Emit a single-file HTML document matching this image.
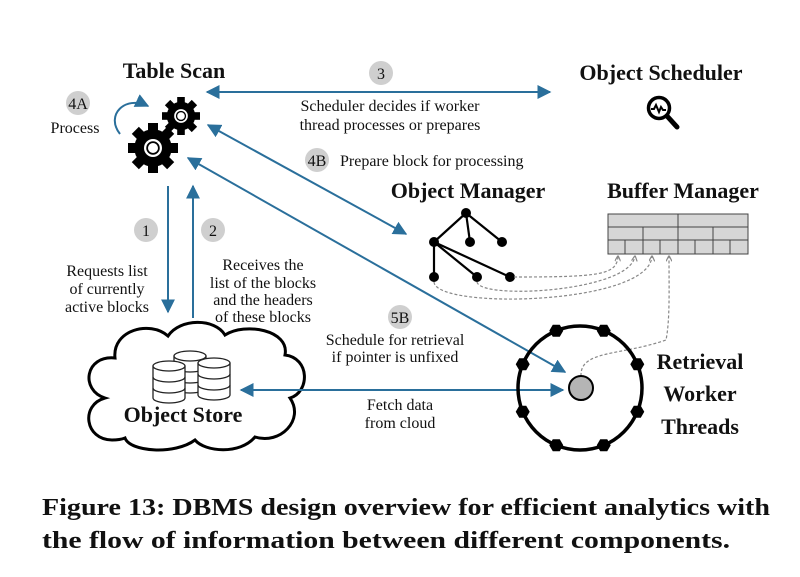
<!DOCTYPE html>
<html><head><meta charset="utf-8"><style>
html,body{margin:0;padding:0;background:#fff;}
svg{display:block;font-family:"Liberation Serif",serif;}
</style></head><body>
<svg width="800" height="577" viewBox="0 0 800 577" xmlns="http://www.w3.org/2000/svg">
<defs>
<marker id="ah" viewBox="0 0 10 10" refX="9" refY="5" markerWidth="7" markerHeight="7" orient="auto-start-reverse"><path d="M0,0 L10,5 L0,10 z" fill="#2a6f9b"/></marker>
<marker id="gh" viewBox="0 0 10 10" refX="9" refY="5" markerWidth="5" markerHeight="5" orient="auto"><path d="M0,0 L10,5 L0,10" fill="none" stroke="#888" stroke-width="2"/></marker>
<g id="gear">
<circle r="0.75" fill="#000"/>
<g fill="#000">
<rect x="-0.2" y="-1" width="0.4" height="2"/>
<rect x="-0.2" y="-1" width="0.4" height="2" transform="rotate(45)"/>
<rect x="-0.2" y="-1" width="0.4" height="2" transform="rotate(90)"/>
<rect x="-0.2" y="-1" width="0.4" height="2" transform="rotate(135)"/>
</g>
<circle r="0.36" fill="#fff"/>
<circle r="0.27" fill="#000"/>
<circle r="0.2" fill="#fff"/>
</g>
<g id="cyl">
<path d="M-16,0 v32 a16,5 0 0 0 32,0 v-32" fill="#fff" stroke="#222" stroke-width="1.3"/>
<path d="M-16,11 a16,5 0 0 0 32,0 M-16,22 a16,5 0 0 0 32,0" fill="none" stroke="#222" stroke-width="1.3"/>
<ellipse cx="0" cy="0" rx="16" ry="5" fill="#fff" stroke="#222" stroke-width="1.3"/>
</g>
</defs>

<g font-weight="bold" font-size="22" fill="#111">
<text x="174" y="78" text-anchor="middle">Table Scan</text>
<text x="661" y="80" text-anchor="middle">Object Scheduler</text>
<text x="468" y="198" text-anchor="middle">Object Manager</text>
<text x="683" y="198" text-anchor="middle">Buffer Manager</text>
<text x="700" y="369" text-anchor="middle">Retrieval</text>
<text x="700" y="401" text-anchor="middle">Worker</text>
<text x="700" y="434" text-anchor="middle">Threads</text>
</g>

<!-- magnifier -->
<circle cx="659" cy="108" r="10.5" fill="none" stroke="#000" stroke-width="3.5"/>
<line x1="667" y1="116" x2="677" y2="127" stroke="#000" stroke-width="5" stroke-linecap="round"/>
<path d="M651,109 l3,0 2,-4 3,7 2,-5 2,3 3,0" fill="none" stroke="#000" stroke-width="2"/>

<!-- gears -->
<use href="#gear" transform="translate(181,116) scale(19)"/>
<use href="#gear" transform="translate(153,148) scale(25)"/>

<!-- step circles -->
<g fill="#cfcfcf">
<circle cx="78" cy="103" r="12"/><circle cx="381" cy="73" r="12"/>
<circle cx="317" cy="160" r="12"/><circle cx="146" cy="230" r="12"/>
<circle cx="213" cy="230" r="12"/><circle cx="400" cy="317" r="12"/>
</g>
<g font-size="16" fill="#111" text-anchor="middle">
<text x="78" y="109">4A</text><text x="381" y="79">3</text>
<text x="317" y="166">4B</text><text x="146" y="236">1</text>
<text x="213" y="236">2</text><text x="400" y="323">5B</text>
<text x="75" y="133">Process</text>
<text x="390" y="111">Scheduler decides if worker</text>
<text x="390" y="130">thread processes or prepares</text>
<text x="107" y="276">Requests list</text>
<text x="107" y="294">of currently</text>
<text x="107" y="312">active blocks</text>
<text x="263" y="270">Receives the</text>
<text x="263" y="288">list of the blocks</text>
<text x="263" y="305">and the headers</text>
<text x="263" y="322">of these blocks</text>
<text x="395" y="345">Schedule for retrieval</text>
<text x="395" y="362">if pointer is unfixed</text>
<text x="400" y="410">Fetch data</text>
<text x="400" y="428">from cloud</text>
<text x="340" y="166" text-anchor="start">Prepare block for processing</text>
</g>

<!-- cloud -->
<path d="M112,440 C85,440 80,405 105,398 C80,390 85,355 115,358 C112,330 150,320 168,336 C180,318 215,318 225,335 C245,322 290,330 285,355 C310,358 310,392 290,398 C305,420 280,445 255,437 C240,455 205,452 195,440 C175,455 130,452 125,438 C120,440 116,440 112,440 Z" fill="#fff" stroke="#000" stroke-width="3"/>
<use href="#cyl" transform="translate(190,356)"/>
<use href="#cyl" transform="translate(169,366)"/>
<use href="#cyl" transform="translate(214,363)"/>
<text x="183" y="422" text-anchor="middle" font-weight="bold" font-size="22" fill="#111">Object Store</text>

<!-- arrows -->
<g stroke="#2a6f9b" stroke-width="2" fill="none">
<line x1="207" y1="92" x2="550" y2="92" marker-start="url(#ah)" marker-end="url(#ah)"/>
<line x1="208" y1="125" x2="406" y2="234" marker-start="url(#ah)" marker-end="url(#ah)"/>
<line x1="188" y1="158" x2="565" y2="372" marker-start="url(#ah)" marker-end="url(#ah)"/>
<line x1="168" y1="186" x2="168" y2="312" marker-end="url(#ah)"/>
<line x1="193" y1="318" x2="193" y2="186" marker-end="url(#ah)"/>
<line x1="241" y1="390" x2="563" y2="390" marker-start="url(#ah)" marker-end="url(#ah)"/>
<path d="M120,134 C105,115 125,95 148,106" marker-end="url(#ah)"/>
</g>

<!-- tree -->
<g stroke="#000" stroke-width="2.2">
<line x1="466" y1="213" x2="434" y2="242"/><line x1="466" y1="213" x2="470" y2="242"/>
<line x1="466" y1="213" x2="502" y2="242"/><line x1="434" y1="242" x2="434" y2="277"/>
<line x1="434" y1="242" x2="477" y2="277"/><line x1="434" y1="242" x2="510" y2="277"/>
</g>
<g fill="#000">
<circle cx="466" cy="213" r="5"/><circle cx="434" cy="242" r="5"/><circle cx="470" cy="242" r="5"/>
<circle cx="502" cy="242" r="5"/><circle cx="434" cy="277" r="5"/><circle cx="477" cy="277" r="5"/><circle cx="510" cy="277" r="5"/>
</g>

<!-- buffer -->
<rect x="608" y="214" width="140" height="40" fill="#d6d6d6" stroke="#444" stroke-width="1"/>
<g stroke="#444" stroke-width="1">
<line x1="608" y1="227" x2="748" y2="227"/><line x1="608" y1="240" x2="748" y2="240"/>
<line x1="678" y1="214" x2="678" y2="227"/>
<line x1="643" y1="227" x2="643" y2="240"/><line x1="678" y1="227" x2="678" y2="240"/><line x1="713" y1="227" x2="713" y2="240"/>
<line x1="625" y1="240" x2="625" y2="254"/><line x1="643" y1="240" x2="643" y2="254"/><line x1="660" y1="240" x2="660" y2="254"/>
<line x1="678" y1="240" x2="678" y2="254"/><line x1="695" y1="240" x2="695" y2="254"/><line x1="713" y1="240" x2="713" y2="254"/><line x1="730" y1="240" x2="730" y2="254"/>
</g>
<g stroke="#888" stroke-width="1.2" stroke-dasharray="3,2" fill="none">
<path d="M514,277 C600,277 617,275 618,256" marker-end="url(#gh)"/>
<path d="M477,282 C480,300 630,292 635,256" marker-end="url(#gh)"/>
<path d="M434,282 C436,310 650,305 652,256" marker-end="url(#gh)"/>
<path d="M581,376 C580,350 620,356 666,340 C670,320 669,290 669,256" marker-end="url(#gh)"/>
</g>

<!-- ring -->
<circle cx="580" cy="388" r="62" fill="none" stroke="#000" stroke-width="3.5"/>
<g fill="#000" transform="translate(580,388)">
<polygon points="7,0 3.5,6 -3.5,6 -7,0 -3.5,-6 3.5,-6" transform="rotate(22.5) translate(62,0) rotate(-22.5)"/>
<polygon points="7,0 3.5,6 -3.5,6 -7,0 -3.5,-6 3.5,-6" transform="rotate(67.5) translate(62,0) rotate(-67.5)"/>
<polygon points="7,0 3.5,6 -3.5,6 -7,0 -3.5,-6 3.5,-6" transform="rotate(112.5) translate(62,0) rotate(-112.5)"/>
<polygon points="7,0 3.5,6 -3.5,6 -7,0 -3.5,-6 3.5,-6" transform="rotate(157.5) translate(62,0) rotate(-157.5)"/>
<polygon points="7,0 3.5,6 -3.5,6 -7,0 -3.5,-6 3.5,-6" transform="rotate(202.5) translate(62,0) rotate(-202.5)"/>
<polygon points="7,0 3.5,6 -3.5,6 -7,0 -3.5,-6 3.5,-6" transform="rotate(247.5) translate(62,0) rotate(-247.5)"/>
<polygon points="7,0 3.5,6 -3.5,6 -7,0 -3.5,-6 3.5,-6" transform="rotate(292.5) translate(62,0) rotate(-292.5)"/>
<polygon points="7,0 3.5,6 -3.5,6 -7,0 -3.5,-6 3.5,-6" transform="rotate(337.5) translate(62,0) rotate(-337.5)"/>
</g>
<circle cx="581" cy="388" r="12" fill="#b5b5b5" stroke="#000" stroke-width="2"/>

<!-- caption -->
<g font-weight="bold" font-size="24" fill="#111">
<text x="42" y="515" textLength="728" lengthAdjust="spacingAndGlyphs">Figure 13: DBMS design overview for efficient analytics with</text>
<text x="42" y="548" textLength="688" lengthAdjust="spacingAndGlyphs">the flow of information between different components.</text>
</g>
</svg>
</body></html>
